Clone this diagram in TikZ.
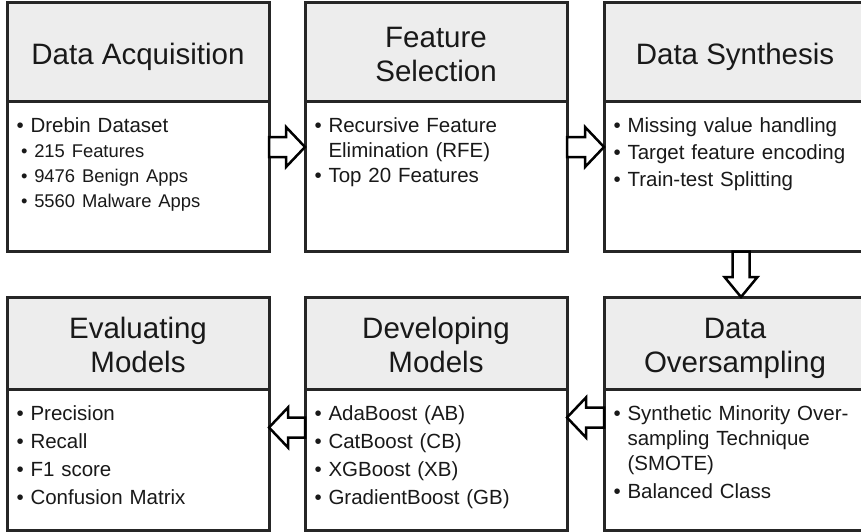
\documentclass[tikz,border=0pt]{standalone}
\usepackage{fontspec}
\setmainfont{Liberation Sans}
\usetikzlibrary{positioning,calc}
\definecolor{linecol}{RGB}{38,38,38}
\definecolor{headcol}{RGB}{237,237,237}
\definecolor{textcol}{RGB}{25,25,25}
\newcommand\headfont{\fontsize{29.5pt}{34pt}\selectfont}
\newcommand\bodyfont{\fontsize{20.5pt}{25pt}\selectfont}
\newcommand\subfont{\fontsize{18.4pt}{25pt}\selectfont}
\newcommand\itembul{\textbullet\ }
\newcommand\hangsp{\phantom{\textbullet\ }}

\begin{document}
\begin{tikzpicture}[x=1pt,y=-1pt,
  head/.style   ={rectangle,draw=linecol,line width=3pt,fill=headcol,outer sep=0pt,
                  inner sep=0pt,minimum width=262pt,align=center,text=textcol,
                  font=\headfont,text height=25pt,text depth=0pt,anchor=north west},
  headtop/.style={head,minimum height=98.5pt},
  headbot/.style={head,minimum height=92pt},
  twoline/.style={text height=59pt},
  body/.style   ={rectangle,draw=linecol,line width=3pt,fill=white,outer sep=0pt,
                  inner xsep=9.5pt,inner ysep=0pt,text width=243pt,align=left,
                  text=textcol,font=\bodyfont,text height=31pt},
  bodytop/.style={body,text depth=119pt},
  bodybot/.style={body,text depth=110pt},
  blockarrow/.style n args={3}{draw=black,fill=white,line width=2.5pt,line join=miter,
    to path={let \p1=(\tikztostart),\p2=(\tikztotarget),
      \n1={atan2(\y2-\y1,\x2-\x1)},\n2={veclen(\x2-\x1,\y2-\y1)} in
      [shift={(\p1)},rotate=\n1]
      (0,#1) -- ({\n2-#3},#1) -- ({\n2-#3},#2) -- (\n2,0) -- ({\n2-#3},-#2)
      -- ({\n2-#3},-#1) -- (0,-#1) -- cycle}},
  harrow/.style={blockarrow={10}{20}{19}},
  varrow/.style={blockarrow={8.5}{16.5}{20}}
]
\useasboundingbox (0,0) rectangle (861,532);
\clip (0,0) rectangle (861,532);

% top row
\node[headtop] (acqHead) at (7,3) {Data Acquisition};
\node[bodytop,below=0pt of acqHead] (acqBody)
  {\itembul Drebin Dataset\\
   \hspace*{4.5pt}{\subfont\itembul 215 Features}\\
   \hspace*{4.5pt}{\subfont\itembul 9476 Benign Apps}\\
   \hspace*{4.5pt}{\subfont\itembul 5560 Malware Apps}};

\node[headtop,twoline] (selHead) at (305,3) {Feature\\Selection};
\node[bodytop,below=0pt of selHead] (selBody)
  {\itembul Recursive Feature\\
   \hangsp Elimination (RFE)\\
   \itembul Top 20 Features};

\node[headtop] (synHead) at (604,3) {Data Synthesis};
\node[bodytop,below=0pt of synHead] (synBody)
  {\itembul Missing value handling\\[2pt]
   \itembul Target feature encoding\\[2pt]
   \itembul Train-test Splitting};

% bottom row
\node[headbot,twoline] (evalHead) at (7,297) {Evaluating\\Models};
\node[bodybot,below=0pt of evalHead] (evalBody)
  {\itembul Precision\\[3pt]
   \itembul Recall\\[3pt]
   \itembul F1 score\\[3pt]
   \itembul Confusion Matrix};

\node[headbot,twoline] (devHead) at (305,297) {Developing\\Models};
\node[bodybot,below=0pt of devHead] (devBody)
  {\itembul AdaBoost (AB)\\[3pt]
   \itembul CatBoost (CB)\\[3pt]
   \itembul XGBoost (XB)\\[3pt]
   \itembul GradientBoost (GB)};

\node[headbot,twoline] (overHead) at (604,297) {Data\\Oversampling};
\node[bodybot,below=0pt of overHead] (overBody)
  {\itembul Synthetic Minority Over-\\
   \hangsp sampling Technique\\
   \hangsp (SMOTE)\\[3pt]
   \itembul Balanced Class};

% block arrows
\draw[harrow] (acqBody.east |- 0,147) to (selBody.west |- 0,147);
\draw[harrow] (selBody.east |- 0,147) to (synBody.west |- 0,147);
\draw[varrow] (synBody.south -| 741,0) to (overHead.north -| 741,0);
\draw[harrow] (overBody.west |- 0,417.5) to (devBody.east |- 0,417.5);
\draw[harrow] (devBody.west |- 0,427.5) to (evalBody.east |- 0,427.5);
\end{tikzpicture}
\end{document}
